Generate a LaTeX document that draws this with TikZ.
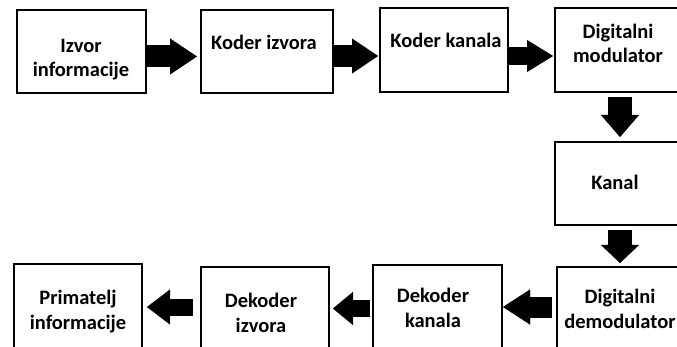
\documentclass[tikz,border=0pt]{standalone}
\usepackage{fontspec}
\setmainfont{Carlito}
\usetikzlibrary{arrows.meta}
\tikzset{
  box/.style={draw=black, line width=2.6pt, fill=white, inner sep=0pt, outer sep=0pt},
  txt/.style={font=\bfseries\fontsize{20.5}{24.5}\selectfont, align=center, anchor=base, inner sep=0pt},
  fat/.style={draw=black, line width=#1, line cap=butt},
}
\begin{document}
\begin{tikzpicture}[x=1pt,y=-1pt]
\useasboundingbox (0,0) rectangle (677,347);
% boxes
\node[box, minimum width=129pt, minimum height=83pt] (b1) at (81.5,51.5) {};
\node[box, minimum width=132pt, minimum height=83pt] (b2) at (267,51.5) {};
\node[box, minimum width=128pt, minimum height=84pt] (b3) at (444,50) {};
\node[box, minimum width=126pt, minimum height=84pt] (b4) at (618,50) {};
\node[box, minimum width=126pt, minimum height=83pt] (b5) at (618,183.5) {};
\node[box, minimum width=124pt, minimum height=93pt] (b6) at (619,313.5) {};
\node[box, minimum width=129pt, minimum height=95pt] (b7) at (437.5,312.5) {};
\node[box, minimum width=128pt, minimum height=93pt] (b8) at (265,313.5) {};
\node[box, minimum width=128pt, minimum height=96pt] (b9) at (78,312) {};
% texts (anchor = baseline of last line)
\node[txt] (t1) at (81,77) {Izvor\\informacije};
\node[txt] (t2) at (264,50) {Koder izvora};
\node[txt] (t3) at (446,48) {Koder kanala};
\node[txt] (t4) at (618,63) {Digitalni\\modulator};
\node[txt] (t5) at (615,190) {Kanal};
\node[txt] (t6) at (620,328) {Digitalni\\demodulator};
\node[txt] (t7) at (433,327) {Dekoder\\kanala};
\node[txt] (t8) at (261,332) {Dekoder\\izvora};
\node[txt] (t9) at (78,329) {Primatelj\\informacije};
% arrows
\draw[fat=22pt, -{Triangle[length=27pt,width=36pt,line width=0.01pt]}] ([yshift=-5pt]b1.east) -- ([xshift=-4pt,yshift=-5pt]b2.west);
\draw[fat=22pt, -{Triangle[length=26pt,width=35pt,line width=0.01pt]}] ([yshift=-4.5pt]b2.east) -- ([xshift=-2pt,yshift=-6pt]b3.west);
\draw[fat=18pt, -{Triangle[length=26pt,width=32pt,line width=0.01pt]}] ([yshift=-6pt]b3.east) -- ([xshift=-2pt,yshift=-6pt]b4.west);
\draw[fat=24pt, -{Triangle[length=22pt,width=38pt,line width=0.01pt]}] ([xshift=2pt,yshift=-5pt]b4.south) -- ([xshift=2pt,yshift=5pt]b5.north);
\draw[fat=24pt, -{Triangle[length=18pt,width=38pt,line width=0.01pt]}] ([xshift=2pt,yshift=-5pt]b5.south) -- ([xshift=1pt,yshift=4pt]b6.north);
\draw[fat=21pt, -{Triangle[length=27pt,width=35pt,line width=0.01pt]}] ([xshift=-5pt,yshift=6.5pt]b6.west) -- ([xshift=1pt,yshift=5.5pt]b7.east);
\draw[fat=17pt, -{Triangle[length=20pt,width=33pt,line width=0.01pt]}] ([xshift=-3pt,yshift=4pt]b7.west) -- ([xshift=4pt,yshift=5pt]b8.east);
\draw[fat=17pt, -{Triangle[length=23pt,width=35pt,line width=0.01pt]}] ([xshift=-8pt,yshift=6.5pt]b8.west) -- ([xshift=5pt,yshift=5pt]b9.east);
\end{tikzpicture}
\end{document}
